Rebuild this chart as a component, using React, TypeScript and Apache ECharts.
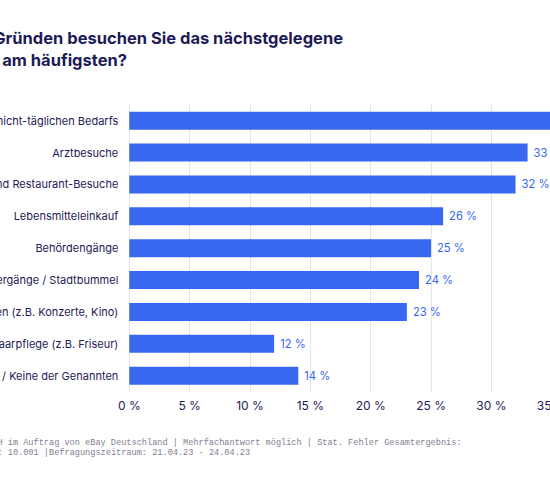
import React, { useEffect, useRef } from "react";
import * as echarts from "echarts";

const categories = [
  "Einkäufe des nicht-täglichen Bedarfs",
  "Arztbesuche",
  "Café- und Restaurant-Besuche",
  "Lebensmitteleinkauf",
  "Behördengänge",
  "Spaziergänge / Stadtbummel",
  "Kulturelle Veranstaltungen (z.B. Konzerte, Kino)",
  "Körper- und Haarpflege (z.B. Friseur)",
  "Weiß nicht / Keine der Genannten",
];
const values = [38, 33, 32, 26, 25, 24, 23, 12, 14];
const titleLines = [
  "Aus welchen Gründen besuchen Sie das nächstgelegene",
  "Stadtzentrum am häufigsten?",
];
const footerLines = [
  "Quelle: YouGov Deutschland GmbH im Auftrag von eBay Deutschland | Mehrfachantwort möglich | Stat. Fehler Gesamtergebnis:",
  "Stichprobengröße: 10.001 |Befragungszeitraum: 21.04.23 - 24.04.23",
];
// number of characters of each footer line that lie left of the visible window
const footerHidden = [30, 16];

const NAVY = "#1d1b57";
const BLUE = "#3867f0";

export default function App() {
  const ref = useRef<HTMLDivElement>(null);
  useEffect(() => {
    if (!ref.current) return;
    const chart = echarts.init(ref.current, undefined, { renderer: "svg" });
    const footSize = 8.6;
    const charW = footSize * 0.6;
    chart.setOption({
      animation: false,
      backgroundColor: "#ffffff",
      grid: {
        left: 129.3,
        top: 104.7,
        height: 287,
        width: 482.8,
        containLabel: false,
        outerBoundsMode: "none",
      },
      xAxis: {
        type: "value",
        min: 0,
        max: 40,
        interval: 5,
        axisLine: { show: false },
        axisTick: { show: false },
        splitLine: { show: true, lineStyle: { color: "#e4e5ec", width: 1 } },
        axisLabel: {
          formatter: "{value} %",
          color: NAVY,
          fontFamily: "Inter",
          fontSize: 12,
          margin: 8,
        },
      },
      yAxis: {
        type: "category",
        data: categories,
        inverse: true,
        axisLine: { show: false },
        axisTick: { show: false },
        splitLine: { show: false },
        axisLabel: {
          color: NAVY,
          fontFamily: "Inter",
          fontSize: 11,
          margin: 11,
        },
      },
      series: [
        {
          type: "bar",
          data: values,
          barWidth: 18,
          itemStyle: { color: BLUE },
          label: {
            show: true,
            position: "right",
            distance: 6,
            formatter: "{c} %",
            color: BLUE,
            fontFamily: "Inter",
            fontSize: 11.2,
          },
        },
      ],
      graphic: [
        {
          type: "text",
          x: 343,
          y: 37.5,
          style: {
            text: titleLines[0],
            align: "right",
            verticalAlign: "middle",
            fill: NAVY,
            font: "bold 16.5px Inter",
          },
        },
        {
          type: "text",
          x: 127,
          y: 59.5,
          style: {
            text: titleLines[1],
            align: "right",
            verticalAlign: "middle",
            fill: NAVY,
            font: "bold 16.5px Inter",
          },
        },
        {
          type: "text",
          x: -2.5 - footerHidden[0] * charW,
          y: 443,
          style: {
            text: footerLines[0],
            align: "left",
            verticalAlign: "middle",
            fill: "#808090",
            fontFamily: "Liberation Mono",
            fontSize: footSize,
          },
        },
        {
          type: "text",
          x: -2.5 - footerHidden[1] * charW,
          y: 453,
          style: {
            text: footerLines[1],
            align: "left",
            verticalAlign: "middle",
            fill: "#808090",
            fontFamily: "Liberation Mono",
            fontSize: footSize,
          },
        },
      ],
    });
    return () => chart.dispose();
  }, []);
  return (
    <div
      style={{
        position: "fixed",
        left: 0,
        top: 0,
        width: 550,
        height: 480,
        overflow: "hidden",
        background: "#fff",
      }}
    >
      <div ref={ref} style={{ position: "absolute", left: 0, top: 0, width: 700, height: 480 }} />
    </div>
  );
}
